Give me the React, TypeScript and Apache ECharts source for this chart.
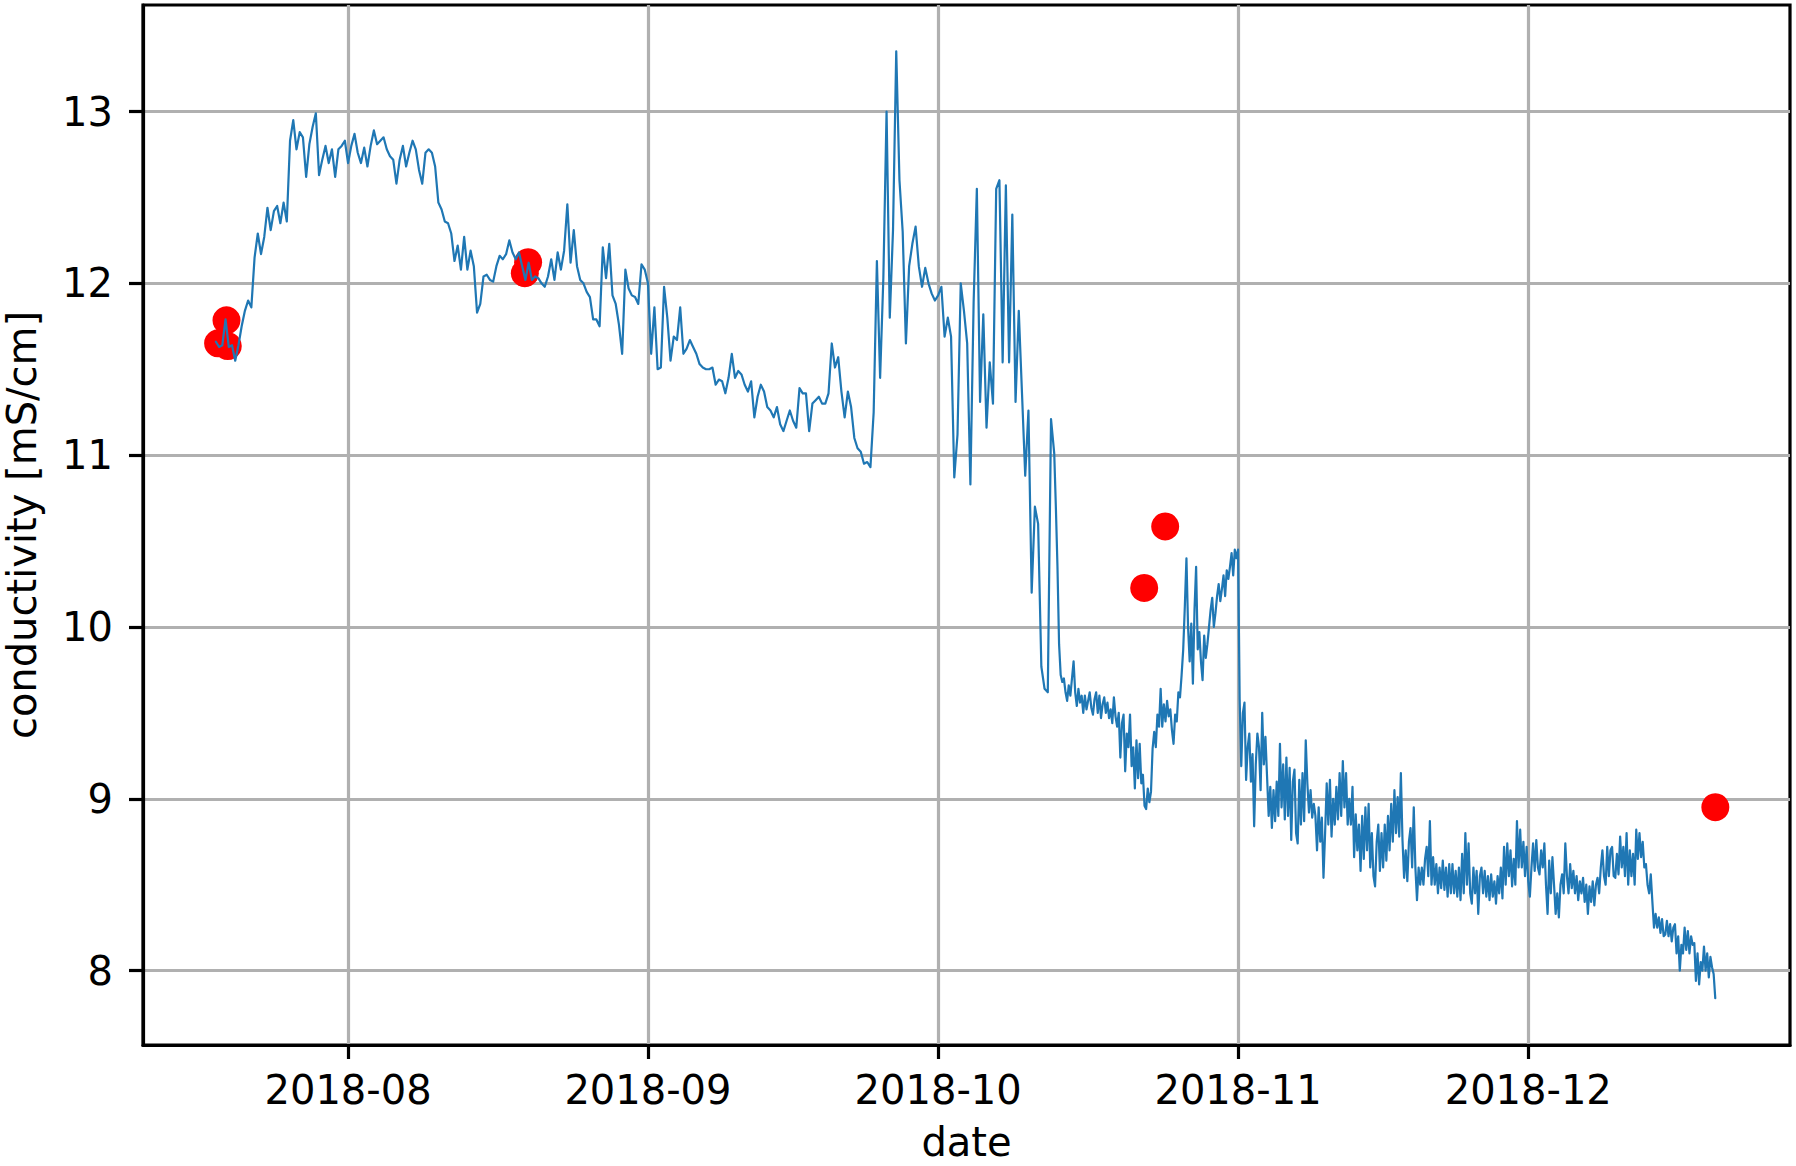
import React, { useEffect, useRef } from 'react';
import * as echarts from 'echarts';

// Conductivity logger readings, part 1: every 8 hours from startA
const startA = '2018-07-18T08:00';
const stepHoursA = 8;
const conductivityA: number[] = [
  11.66, 11.63, 11.64, 11.79, 11.63, 11.64, 11.55, 11.64, 11.75, 11.84, 11.9, 11.86,
  12.15, 12.29, 12.17, 12.27, 12.44, 12.31, 12.42, 12.45, 12.35, 12.47, 12.36, 12.83,
  12.95, 12.78, 12.88, 12.85, 12.62, 12.81, 12.91, 12.99, 12.63, 12.72, 12.8, 12.7,
  12.78, 12.62, 12.78, 12.8, 12.83, 12.7, 12.8, 12.87, 12.76, 12.7, 12.79, 12.68,
  12.8, 12.89, 12.81, 12.83, 12.85, 12.78, 12.74, 12.72, 12.58, 12.72, 12.8, 12.68,
  12.76, 12.83, 12.78, 12.66, 12.58, 12.76, 12.78, 12.76, 12.68, 12.47, 12.43, 12.36,
  12.35, 12.29, 12.13, 12.22, 12.08, 12.27, 12.08, 12.19, 12.1, 11.83, 11.88, 12.04,
  12.05, 12.02, 12.01, 12.1, 12.16, 12.14, 12.17, 12.25, 12.18, 12.14, 12.18, 12.1,
  12.02, 12.12, 12.02, 12.04, 12.03, 12.0, 11.98, 12.04, 12.14, 12.02, 12.18, 12.08,
  12.19, 12.46, 12.12, 12.31, 12.1, 12.02, 12.0, 11.95, 11.92, 11.79, 11.79, 11.75,
  12.21, 12.03, 12.23, 11.93, 11.88, 11.76, 11.59, 12.08, 11.97, 11.93, 11.92, 11.88,
  12.11, 12.08, 12.0, 11.59, 11.86, 11.5, 11.51, 11.98, 11.8, 11.55, 11.69, 11.67,
  11.86, 11.59, 11.62, 11.67, 11.63, 11.59, 11.53, 11.51, 11.5, 11.5, 11.51, 11.41,
  11.44, 11.43, 11.36, 11.45, 11.59, 11.45, 11.49, 11.47, 11.41, 11.37, 11.43, 11.22,
  11.34, 11.41, 11.37, 11.28, 11.26, 11.22, 11.28, 11.18, 11.14, 11.2, 11.26, 11.2,
  11.16, 11.39, 11.36, 11.36, 11.14, 11.3, 11.32, 11.34, 11.3, 11.3, 11.36, 11.65,
  11.51, 11.57, 11.37, 11.22, 11.37, 11.28, 11.1, 11.04, 11.02, 10.95, 10.96, 10.93,
  11.25, 12.13, 11.45, 12.03, 13.0, 11.8, 12.31, 13.35, 12.6, 12.3, 11.65, 12.1,
  12.23, 12.33, 12.1, 11.98, 12.09, 12.0, 11.94, 11.9, 11.93, 11.98, 11.69, 11.8,
  11.69, 10.87, 11.12, 12.0, 11.84, 11.65, 10.83, 11.89, 12.55, 11.31, 11.82, 11.16,
  11.54, 11.3, 12.55, 12.6, 11.54, 12.57, 11.54, 12.4, 11.31, 11.84, 11.36, 10.88,
  11.26, 10.2, 10.7, 10.6, 9.77, 9.64, 9.62, 11.21, 11.01,
];

// Part 2: every 4 hours from startB (denser, noisier stretch)
const startB = '2018-10-13T04:00';
const stepHoursB = 4;
const conductivityB: number[] = [
  10.7, 10.35, 9.9, 9.72, 9.68, 9.7,
  9.62, 9.57, 9.66, 9.6, 9.7, 9.8,
  9.62, 9.54, 9.64, 9.56, 9.6, 9.5,
  9.6, 9.52, 9.57, 9.62, 9.53, 9.49,
  9.58, 9.62, 9.5, 9.6, 9.47, 9.55,
  9.59, 9.5, 9.56, 9.47, 9.52, 9.44,
  9.59, 9.48, 9.42, 9.5, 9.24, 9.44,
  9.49, 9.16, 9.38, 9.3, 9.49, 9.19,
  9.3, 9.06, 9.34, 9.12, 9.32, 9.09,
  9.14, 8.96, 8.94, 9.06, 8.98, 9.04,
  9.29, 9.39, 9.3, 9.49, 9.42, 9.64,
  9.42, 9.55, 9.45, 9.57, 9.48, 9.52,
  9.4, 9.32, 9.49, 9.45, 9.62, 9.59,
  9.72, 9.87, 10.12, 10.4, 10.0, 9.8,
  10.02, 9.67, 10.1, 10.35, 9.87, 9.97,
  9.8, 9.69, 9.95, 9.82, 9.9, 10.0,
  10.1, 10.17, 10.0, 10.08, 10.18, 10.25,
  10.15, 10.22, 10.3, 10.18, 10.33, 10.28,
  10.35, 10.43, 10.3, 10.45, 10.4, 10.45,
  9.58, 9.19, 9.5, 9.56, 9.11, 9.3,
  9.38, 9.1, 9.26, 8.84, 9.2, 9.38,
  9.3, 9.05, 9.5, 9.2, 9.36, 9.13,
  8.9, 9.07, 8.83, 9.05, 8.87, 9.1,
  8.9, 9.32, 8.95, 9.2, 8.88, 9.24,
  8.9, 9.18, 8.76, 9.1, 9.17, 8.8,
  8.74, 9.11, 8.85, 9.15, 8.87, 9.34,
  9.09, 8.92, 9.05, 8.89, 8.97, 8.9,
  8.7, 8.95, 8.75, 8.89, 8.54, 8.8,
  9.09, 8.85, 9.11, 8.78, 9.0, 8.85,
  9.07, 8.88, 9.15, 8.9, 9.22, 8.95,
  9.15, 8.85, 9.0, 8.85, 9.07, 8.66,
  8.91, 8.7, 8.85, 8.58, 8.9, 8.65,
  8.95, 8.7, 8.97, 8.6, 8.8, 8.55,
  8.49, 8.75, 8.85, 8.58, 8.8, 8.6,
  8.85, 8.64, 8.9, 8.7, 8.97, 8.75,
  9.05, 8.8, 9.01, 8.78, 9.15, 8.76,
  8.54, 8.7, 8.52, 8.75, 8.83, 8.6,
  8.95, 8.6, 8.41, 8.6, 8.5, 8.6,
  8.5, 8.65, 8.72, 8.55, 8.87, 8.5,
  8.66, 8.5, 8.62, 8.45, 8.6, 8.48,
  8.64, 8.47, 8.6, 8.43, 8.62, 8.45,
  8.62, 8.45, 8.58, 8.43, 8.6, 8.41,
  8.68, 8.45, 8.8, 8.5, 8.74, 8.45,
  8.39, 8.6, 8.45, 8.58, 8.33, 8.55,
  8.6, 8.45, 8.58, 8.43, 8.55, 8.41,
  8.56, 8.43, 8.52, 8.39, 8.55, 8.45,
  8.6, 8.42, 8.72, 8.5, 8.74, 8.55,
  8.7, 8.49, 8.65, 8.5, 8.87, 8.6,
  8.82, 8.6, 8.75, 8.55, 8.72, 8.52,
  8.43, 8.6, 8.74, 8.58, 8.76, 8.6,
  8.56, 8.7, 8.6, 8.74, 8.5, 8.33,
  8.64, 8.45, 8.66, 8.5, 8.33, 8.45,
  8.31, 8.5, 8.56, 8.45, 8.74, 8.55,
  8.45, 8.62, 8.48, 8.58, 8.45, 8.55,
  8.41, 8.52, 8.45, 8.54, 8.4, 8.5,
  8.33, 8.49, 8.4, 8.52, 8.38, 8.5,
  8.54, 8.45, 8.6, 8.7, 8.55, 8.5,
  8.72, 8.55, 8.7, 8.72, 8.55, 8.54,
  8.68, 8.56, 8.78, 8.6, 8.72, 8.55,
  8.8, 8.5, 8.7, 8.55, 8.68, 8.5,
  8.82, 8.65, 8.8, 8.66, 8.75, 8.6,
  8.62, 8.5, 8.45, 8.56, 8.4, 8.25,
  8.33, 8.25, 8.31, 8.22, 8.3, 8.2,
  8.21, 8.29, 8.2, 8.27, 8.17, 8.25,
  8.27, 8.1, 8.2, 8.0, 8.15, 8.1,
  8.25, 8.12, 8.23, 8.1, 8.2, 8.15,
  8.16, 7.94, 8.1, 7.92, 8.05, 8.0,
  8.14, 8.0, 8.1, 7.96, 8.08, 8.02,
  7.98, 7.84,
];

// Lab reference samples (red dots)
const sampleTimes = [
  '2018-07-18T13:30', '2018-07-19T10:20', '2018-07-19T13:30',
  '2018-08-19T06:30', '2018-08-19T14:40',
  '2018-10-22T07:10', '2018-10-24T11:15',
  '2018-12-20T08:10',
];
const sampleValues = [11.651, 11.785, 11.635, 12.059, 12.123, 10.227, 10.585, 8.951];

const xTickLabels = ['2018-08', '2018-09', '2018-10', '2018-11', '2018-12'];
const yTicks = [8, 9, 10, 11, 12, 13];
const xRange = ['2018-07-10T19:12', '2018-12-28T01:26'];
const yRange = [7.567, 13.62];

const FONT = 'DejaVu Sans';

export default function App() {
  const ref = useRef<HTMLDivElement>(null);

  useEffect(() => {
    const chart = echarts.init(ref.current as HTMLDivElement, null, { renderer: 'svg' });
    const tA = new Date(startA).getTime();
    const tB = new Date(startB).getTime();
    const lineData = [
      ...conductivityA.map((v, i) => [tA + i * stepHoursA * 3600000, v]),
      ...conductivityB.map((v, i) => [tB + i * stepHoursB * 3600000, v]),
    ];
    const dotData = sampleTimes.map((t, i) => [new Date(t).getTime(), sampleValues[i]]);
    const xTickValues = xTickLabels.map((l) => new Date(l + '-01T00:00').getTime());
    const labelOf = (v: number) => {
      const idx = xTickValues.findIndex((t) => Math.abs(t - v) < 3600000 * 12);
      return idx >= 0 ? xTickLabels[idx] : '';
    };

    chart.setOption({
      animation: false,
      backgroundColor: '#ffffff',
      textStyle: { fontFamily: FONT },
      grid: {
        left: 143,
        right: 6,
        top: 5,
        bottom: 121,
        show: true,
        borderColor: '#000000',
        borderWidth: 3.2,
        backgroundColor: 'transparent',
        containLabel: false,
        outerBoundsMode: 'none',
      },
      xAxis: {
        type: 'value',
        scale: true,
        min: new Date(xRange[0]).getTime(),
        max: new Date(xRange[1]).getTime(),
        name: 'date',
        nameLocation: 'middle',
        nameGap: 78,
        nameTextStyle: { fontSize: 40, lineHeight: 38, color: '#000000', fontFamily: FONT },
        axisLine: { show: true, onZero: false, lineStyle: { color: '#000000', width: 3.2 } },
        axisTick: {
          show: true,
          length: 14,
          customValues: xTickValues,
          lineStyle: { color: '#000000', width: 3.2 },
        },
        axisLabel: {
          show: true,
          customValues: xTickValues,
          formatter: (v: number) => labelOf(v),
          fontSize: 40,
          color: '#000000',
          fontFamily: FONT,
          margin: 25,
          hideOverlap: false,
        },
        splitLine: { show: true, lineStyle: { color: '#b0b0b0', width: 3.2 } },
      },
      yAxis: {
        type: 'value',
        scale: true,
        min: yRange[0],
        max: yRange[1],
        name: 'conductivity [mS/cm]',
        nameLocation: 'middle',
        nameGap: 102,
        nameRotate: 90,
        nameTextStyle: { fontSize: 40, lineHeight: 38, color: '#000000', fontFamily: FONT },
        axisLine: { show: true, onZero: false, lineStyle: { color: '#000000', width: 3.2 } },
        axisTick: {
          show: true,
          length: 14,
          customValues: yTicks,
          lineStyle: { color: '#000000', width: 3.2 },
        },
        axisLabel: {
          show: true,
          customValues: yTicks,
          fontSize: 40,
          color: '#000000',
          fontFamily: FONT,
          margin: 30,
        },
        splitLine: { show: true, lineStyle: { color: '#b0b0b0', width: 3.2 } },
      },
      series: [
        {
          type: 'scatter',
          data: dotData,
          symbol: 'circle',
          symbolSize: 28,
          itemStyle: { color: '#ff0000', opacity: 1 },
          z: 2,
          silent: true,
        },
        {
          type: 'line',
          data: lineData,
          showSymbol: false,
          symbol: 'none',
          lineStyle: { color: '#1f77b4', width: 2.2, join: 'round', cap: 'round' },
          z: 3,
          silent: true,
        },
      ],
    });
    return () => chart.dispose();
  }, []);

  return (
    <div
      ref={ref}
      style={{ position: 'fixed', left: 0, top: 0, width: 1796, height: 1166, background: '#ffffff' }}
    />
  );
}
